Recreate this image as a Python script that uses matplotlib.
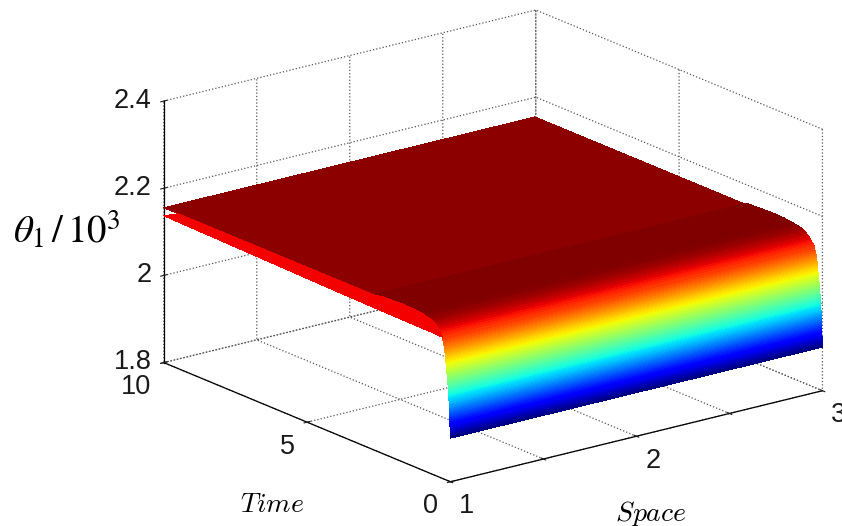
import numpy as np
import matplotlib
matplotlib.use('Agg')
import matplotlib.pyplot as plt
from matplotlib.colors import Normalize

plt.rcParams['mathtext.fontset'] = 'cm'
plt.rcParams['font.family'] = ['Liberation Sans', 'DejaVu Sans']

space = [1.0, 1.5, 2.0, 2.5, 2.995, 3.0]
time = [0.0, 0.0025, 0.005, 0.0075, 0.01, 0.0125, 0.015, 0.0175, 0.02, 0.022,
        0.024, 0.027, 0.029, 0.031, 0.034, 0.036, 0.038, 0.041, 0.043, 0.046,
        0.048, 0.05, 0.053, 0.055, 0.058, 0.06, 0.065, 0.07, 0.075, 0.08,
        0.085, 0.09, 0.095, 0.1, 0.106, 0.112, 0.118, 0.124, 0.13, 0.136,
        0.142, 0.148, 0.154, 0.16, 0.166, 0.172, 0.178, 0.184, 0.19, 0.196,
        0.2, 0.215, 0.23, 0.245, 0.26, 0.275, 0.29, 0.32, 0.35, 0.38,
        0.42, 0.47, 0.52, 0.58, 0.64, 0.7, 0.8, 0.9, 1.0, 1.3,
        1.6, 2.0, 2.6, 2.7, 4.0, 6.0, 8.0, 10.0]
theta = [1.900, 1.904, 1.908, 1.912, 1.916, 1.920, 1.924, 1.928, 1.932, 1.936,
         1.940, 1.944, 1.948, 1.952, 1.956, 1.960, 1.964, 1.968, 1.972, 1.976,
         1.980, 1.984, 1.988, 1.992, 1.996, 2.000, 2.004, 2.008, 2.012, 2.016,
         2.020, 2.024, 2.028, 2.032, 2.036, 2.040, 2.044, 2.048, 2.052, 2.056,
         2.060, 2.064, 2.068, 2.072, 2.076, 2.080, 2.084, 2.088, 2.092, 2.096,
         2.100, 2.104, 2.108, 2.112, 2.116, 2.120, 2.124, 2.128, 2.132, 2.136,
         2.140, 2.144, 2.147, 2.150, 2.152, 2.154, 2.156, 2.157, 2.159, 2.161,
         2.162, 2.161, 2.1590, 2.1555, 2.1555, 2.1554, 2.1553, 2.1552]
# the lower rim along Space = 1 and its top
rim_time = [0.29, 0.42, 0.6, 1.0, 1.6, 2.33, 2.7, 4.0, 6.0, 8.0, 9.5, 10.0]
rim_low = [2.124, 2.1245, 2.125, 2.125, 2.1255, 2.126, 2.1265, 2.128, 2.131, 2.134, 2.136, 2.137]
rim_high = [2.124, 2.141, 2.152, 2.160, 2.162, 2.160, 2.1557, 2.1556, 2.1555, 2.1554, 2.1553, 2.137]
right_edge = 2.13

xticks = [1, 1.5, 2, 2.5, 3]
xticklabels = ['1', '', '2', '', '3']
yticks = [0, 5, 10]
zticks = [1.8, 2, 2.2, 2.4]
zticklabels = ['1.8', '2', '2.2', '2.4']

fig = plt.figure(figsize=(8.42, 5.26), dpi=100)
ax = fig.add_axes([223 / 842, 10 / 526, 526 / 842, 1], projection='3d',
                  proj_type='ortho', computed_zorder=False)
ax.view_init(elev=18.6, azim=-127.5)
ax.set_box_aspect((469, 471, 276), zoom=1.328)
ax.patch.set_alpha(0)

X, T = np.meshgrid(space, time)
Z = np.tile(np.array(theta)[:, None], (1, len(space)))
Z[:, -1] = np.where(Z[:, -1] > right_edge, right_edge, Z[:, -1])
norm = Normalize(1.9, 2.159, clip=True)
sheet = ax.plot_surface(X, T, Z, rstride=1, cstride=1, facecolors=plt.cm.jet(norm(Z)),
                        shade=False, linewidth=0, antialiased=False, zorder=2)
sheet.set_clip_on(False)

X2 = np.ones((len(rim_time), 2))
T2 = np.column_stack([rim_time, rim_time])
Z2 = np.column_stack([rim_low, rim_high])
rim = ax.plot_surface(X2, T2, Z2, rstride=1, cstride=1, color='#f40000',
                      shade=False, linewidth=0, antialiased=False, zorder=3)
rim.set_clip_on(False)

ax.set_xlim(1, 3)
ax.set_ylim(0, 10)
ax.set_zlim(1.8, 2.4)
ax.set_xticks(xticks)
ax.set_xticklabels(xticklabels, ha='left')
ax.set_yticks(yticks)
ax.set_yticklabels(yticks, ha='right')
ax.set_zticks(zticks)
ax.set_zticklabels(zticklabels, ha='right', va='center')
ax.tick_params(labelsize=19.5, colors='#1a1a1a')
ax.tick_params(axis='x', pad=-2)
ax.tick_params(axis='y', pad=-1.5)
ax.tick_params(axis='z', pad=-4.4)

for axis in (ax.xaxis, ax.yaxis, ax.zaxis):
    axis.set_pane_color((1, 1, 1, 0))
    axis.pane.set_edgecolor((1, 1, 1, 0))
    axis.line.set_color('black')
    axis.line.set_linewidth(0.9)
    axis._axinfo['grid'].update(color='#555555', linestyle=':', linewidth=0.9)
    axis._axinfo['tick'].update(inward_factor=0.1, outward_factor=0.1)

fig.text(272 / 842, 1 - 505 / 526, r'$\mathit{Time}$', fontsize=20, ha='center', va='center')
fig.text(651 / 842, 1 - 513 / 526, r'$\mathit{Space}$', fontsize=20, ha='center', va='center')
fig.text(67 / 842, 1 - 230 / 526, r'$\theta_1\,/\,10^3$', fontsize=28, ha='center', va='center',
         math_fontfamily='stix')

fig.savefig('out.png', dpi=100)
